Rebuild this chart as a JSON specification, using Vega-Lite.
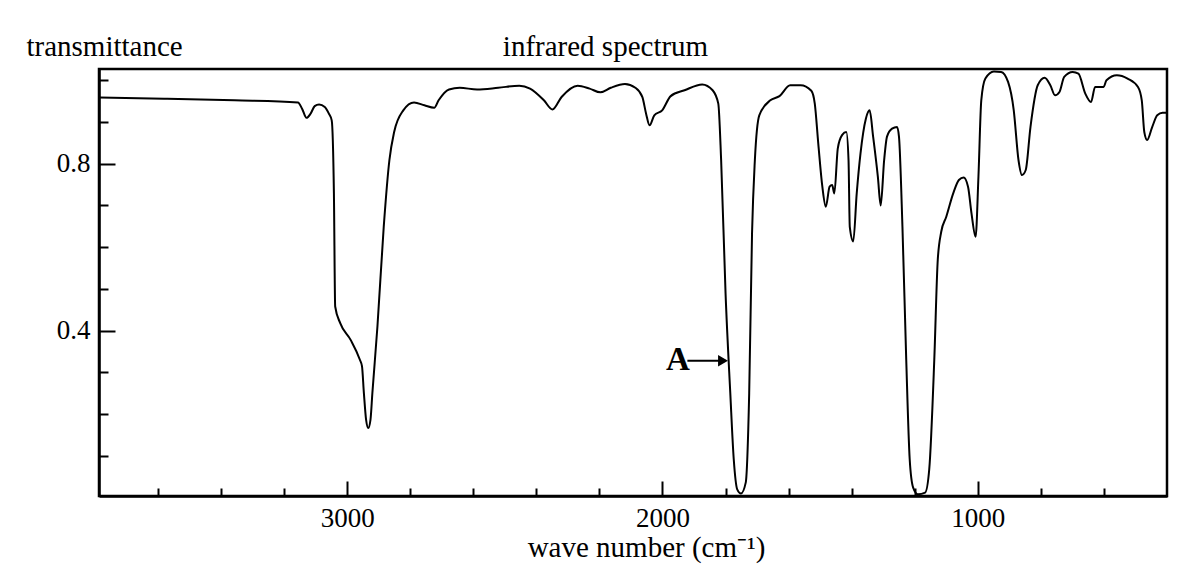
{
  "$schema": "https://vega.github.io/schema/vega-lite/v6.json",
  "width": 1068,
  "height": 427,
  "autosize": {"type": "none"},
  "padding": {"left": 99, "top": 69, "right": 28, "bottom": 83},
  "background": "white",
  "config": {
    "font": "Liberation Serif",
    "view": {"stroke": "black", "strokeWidth": 2.5},
    "text": {"font": "Liberation Serif"},
    "axis": {
      "domainColor": "black", "domainWidth": 2.5, "tickColor": "black", "tickWidth": 2,
      "labelColor": "black", "titleColor": "black", "labelFont": "Liberation Serif",
      "titleFont": "Liberation Serif", "grid": false, "labelFontWeight": "normal", "titleFontWeight": "normal"
    }
  },
  "datasets": {
    "spectrum": [
      {"wn":3785,"T":0.959},{"wn":3580,"T":0.956},{"wn":3357,"T":0.952},{"wn":3156,"T":0.947},{"wn":3143,"T":0.932},
      {"wn":3129,"T":0.910},{"wn":3116,"T":0.920},{"wn":3103,"T":0.938},{"wn":3089,"T":0.942},{"wn":3071,"T":0.936},
      {"wn":3058,"T":0.920},{"wn":3049,"T":0.904},{"wn":3042,"T":0.729},{"wn":3038,"T":0.458},{"wn":3022,"T":0.418},
      {"wn":2989,"T":0.378},{"wn":2960,"T":0.331},{"wn":2953,"T":0.315},{"wn":2947,"T":0.251},{"wn":2940,"T":0.187},
      {"wn":2933,"T":0.167},{"wn":2926,"T":0.187},{"wn":2920,"T":0.251},{"wn":2904,"T":0.410},{"wn":2884,"T":0.649},
      {"wn":2866,"T":0.809},{"wn":2851,"T":0.876},{"wn":2822,"T":0.928},{"wn":2788,"T":0.947},{"wn":2755,"T":0.940},
      {"wn":2724,"T":0.934},{"wn":2710,"T":0.952},{"wn":2677,"T":0.978},{"wn":2643,"T":0.982},{"wn":2588,"T":0.978},
      {"wn":2521,"T":0.982},{"wn":2454,"T":0.987},{"wn":2420,"T":0.980},{"wn":2376,"T":0.952},{"wn":2349,"T":0.930},
      {"wn":2320,"T":0.960},{"wn":2269,"T":0.987},{"wn":2231,"T":0.980},{"wn":2197,"T":0.971},{"wn":2164,"T":0.982},
      {"wn":2119,"T":0.991},{"wn":2086,"T":0.982},{"wn":2064,"T":0.960},{"wn":2052,"T":0.920},{"wn":2041,"T":0.892},
      {"wn":2026,"T":0.916},{"wn":2001,"T":0.928},{"wn":1974,"T":0.962},{"wn":1930,"T":0.976},{"wn":1874,"T":0.990},
      {"wn":1841,"T":0.976},{"wn":1823,"T":0.944},{"wn":1814,"T":0.809},{"wn":1800,"T":0.490},{"wn":1785,"T":0.251},
      {"wn":1774,"T":0.092},{"wn":1763,"T":0.020},{"wn":1751,"T":0.010},{"wn":1736,"T":0.036},{"wn":1725,"T":0.251},
      {"wn":1716,"T":0.633},{"wn":1707,"T":0.809},{"wn":1693,"T":0.916},{"wn":1658,"T":0.952},{"wn":1629,"T":0.962},
      {"wn":1595,"T":0.988},{"wn":1562,"T":0.988},{"wn":1528,"T":0.975},{"wn":1517,"T":0.944},{"wn":1506,"T":0.849},
      {"wn":1493,"T":0.745},{"wn":1482,"T":0.697},{"wn":1470,"T":0.745},{"wn":1462,"T":0.749},{"wn":1455,"T":0.729},
      {"wn":1444,"T":0.837},{"wn":1430,"T":0.869},{"wn":1417,"T":0.876},{"wn":1410,"T":0.809},{"wn":1406,"T":0.649},
      {"wn":1395,"T":0.614},{"wn":1384,"T":0.729},{"wn":1372,"T":0.825},{"wn":1355,"T":0.908},{"wn":1343,"T":0.928},
      {"wn":1332,"T":0.865},{"wn":1317,"T":0.769},{"wn":1308,"T":0.700},{"wn":1297,"T":0.809},{"wn":1288,"T":0.865},
      {"wn":1272,"T":0.884},{"wn":1256,"T":0.888},{"wn":1250,"T":0.865},{"wn":1239,"T":0.649},{"wn":1227,"T":0.331},
      {"wn":1216,"T":0.092},{"wn":1205,"T":0.024},{"wn":1190,"T":0.008},{"wn":1167,"T":0.012},{"wn":1154,"T":0.068},
      {"wn":1138,"T":0.331},{"wn":1127,"T":0.570},{"wn":1116,"T":0.637},{"wn":1100,"T":0.673},{"wn":1078,"T":0.729},
      {"wn":1060,"T":0.761},{"wn":1045,"T":0.767},{"wn":1031,"T":0.745},{"wn":1020,"T":0.681},{"wn":1007,"T":0.625},
      {"wn":998,"T":0.769},{"wn":989,"T":0.952},{"wn":976,"T":1.004},{"wn":949,"T":1.021},{"wn":926,"T":1.020},
      {"wn":904,"T":0.996},{"wn":886,"T":0.928},{"wn":871,"T":0.809},{"wn":860,"T":0.773},{"wn":848,"T":0.785},
      {"wn":833,"T":0.888},{"wn":810,"T":0.988},{"wn":788,"T":1.006},{"wn":770,"T":0.988},{"wn":755,"T":0.964},
      {"wn":741,"T":0.972},{"wn":726,"T":1.008},{"wn":699,"T":1.020},{"wn":681,"T":1.016},{"wn":659,"T":0.968},
      {"wn":641,"T":0.948},{"wn":628,"T":0.984},{"wn":601,"T":0.984},{"wn":592,"T":1.000},{"wn":559,"T":1.012},
      {"wn":525,"T":1.004},{"wn":492,"T":0.984},{"wn":480,"T":0.952},{"wn":472,"T":0.876},{"wn":463,"T":0.857},
      {"wn":447,"T":0.888},{"wn":431,"T":0.916},{"wn":414,"T":0.922},{"wn":400,"T":0.922}
    ],
    "annot": [{"wn": 1951, "T": 0.33, "label": "A"}],
    "arrow": [{"wn": 1921, "wn2": 1800, "T": 0.328}],
    "head": [{"wn": 1808, "T": 0.328}]
  },
  "resolve": {"axis": {"x": "independent", "y": "independent"}},
  "layer": [
    {
      "data": {"name": "spectrum"},
      "mark": {"type": "line", "color": "black", "strokeWidth": 2, "interpolate": "monotone"},
      "encoding": {
        "x": {
          "field": "wn", "type": "quantitative",
          "scale": {"domain": [400, 3787], "reverse": true, "nice": false, "zero": false},
          "axis": {
            "orient": "bottom",
            "values": [3600, 3400, 3200, 3000, 2800, 2600, 2400, 2200, 2000, 1800, 1600, 1400, 1200, 1000, 800, 600],
            "tickSize": {"condition": {"test": "datum.value % 1000 === 0", "value": -15}, "value": -8},
            "labelExpr": "datum.value % 1000 === 0 ? datum.label : ''",
            "format": "d",
            "labelFont": "Liberation Serif",
            "labelFontSize": 27,
            "labelBaseline": "alphabetic",
            "labelPadding": 45,
            "labelFlush": false,
            "labelOverlap": false,
            "title": "wave number (cm⁻¹)",
            "titleFont": "Liberation Serif",
            "titleFontSize": 29,
            "titleBaseline": "alphabetic",
            "titleAlign": "center",
            "titleX": 547,
            "titleY": 60
          }
        },
        "y": {
          "field": "T", "type": "quantitative",
          "scale": {"domain": [0.004, 1.027], "nice": false, "zero": false},
          "axis": {
            "orient": "left",
            "values": [0.1, 0.2, 0.3, 0.4, 0.5, 0.6, 0.7, 0.8, 0.9, 1.0],
            "tickSize": {"condition": {"test": "datum.value === 0.4 || datum.value === 0.8", "value": -16}, "value": -9},
            "labelExpr": "(datum.value === 0.4 || datum.value === 0.8) ? datum.label : ''",
            "format": ".1f",
            "labelFont": "Liberation Serif",
            "labelFontSize": 27,
            "labelPadding": 25,
            "labelBaseline": "middle",
            "labelOverlap": false,
            "labelFlush": false,
            "title": "transmittance",
            "titleFont": "Liberation Serif",
            "titleAngle": 0,
            "titleAlign": "left",
            "titleBaseline": "alphabetic",
            "titleX": -73,
            "titleY": -14,
            "titleFontSize": 29
          }
        }
      }
    },
    {
      "data": {"name": "arrow"},
      "mark": {"type": "rule", "color": "black", "strokeWidth": 2},
      "encoding": {
        "x": {"field": "wn", "type": "quantitative", "axis": null},
        "x2": {"field": "wn2"},
        "y": {"field": "T", "type": "quantitative", "axis": null}
      }
    },
    {
      "data": {"name": "head"},
      "mark": {"type": "point", "shape": "triangle-right", "filled": true, "color": "black", "size": 130, "opacity": 1},
      "encoding": {
        "x": {"field": "wn", "type": "quantitative", "axis": null},
        "y": {"field": "T", "type": "quantitative", "axis": null}
      }
    },
    {
      "data": {"name": "annot"},
      "mark": {"type": "text", "font": "Liberation Serif", "fontWeight": "bold", "fontSize": 33, "color": "black", "align": "center", "baseline": "middle"},
      "encoding": {
        "x": {
          "field": "wn", "type": "quantitative",
          "axis": {
            "orient": "top", "domain": false, "ticks": false, "labels": false,
            "title": "infrared spectrum", "titleFont": "Liberation Serif", "titleFontSize": 29, "titleBaseline": "alphabetic",
            "titleAlign": "center", "titleX": 506, "titleY": -14
          }
        },
        "y": {"field": "T", "type": "quantitative", "axis": null},
        "text": {"field": "label"}
      }
    }
  ]
}
